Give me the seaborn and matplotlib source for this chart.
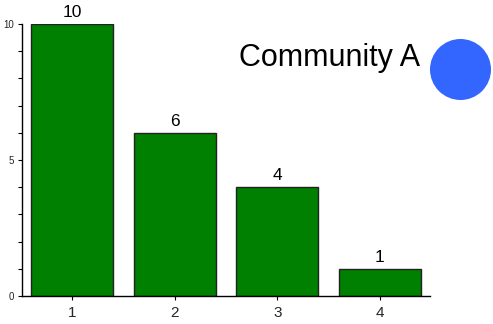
import matplotlib
matplotlib.use("Agg")
import matplotlib.pyplot as plt
from matplotlib.patches import Ellipse
from matplotlib.ticker import MultipleLocator
import seaborn as sns

categories = ["1", "2", "3", "4"]
counts = [10, 6, 4, 1]
title_text = "Community A"

sns.set_style("white")
plt.rcParams["font.family"] = ["Liberation Sans", "DejaVu Sans"]

W, H = 493, 324
fig = plt.figure(figsize=(W / 100, H / 100), dpi=100)
ax = fig.add_axes([22 / W, 1 - 296 / H, (430 - 22) / W, (296 - 24) / H])

sns.barplot(x=categories, y=counts, color="#008000", saturation=1,
            edgecolor="#222222", linewidth=1, width=0.8, ax=ax)

ax.set_xlim(-0.49, 3.49)
ax.set_ylim(0, 10)
ax.set_xlabel("")
ax.set_ylabel("")

for i, v in enumerate(counts):
    ax.annotate(str(v), (i, v), xytext=(0, 3), textcoords="offset points",
                ha="center", va="bottom", fontsize=12.5, color="black")

for s in ("top", "right"):
    ax.spines[s].set_visible(False)
for s in ("left", "bottom"):
    ax.spines[s].set_color("black")
    ax.spines[s].set_linewidth(1)

ax.yaxis.set_major_locator(MultipleLocator(5))
ax.yaxis.set_minor_locator(MultipleLocator(1))
ax.tick_params(axis="y", which="both", left=True, direction="out",
               length=3, width=0.8, color="black", labelsize=7, pad=3)
ax.tick_params(axis="x", bottom=True, direction="out", length=3, width=0.8,
               color="black", labelsize=11, pad=4)

fig.text(420 / W, 1 - 58 / H, title_text, ha="right", va="center",
         fontsize=22, color="black")
fig.add_artist(Ellipse((460.5 / W, 1 - 69.5 / H), 61 / W, 61 / H,
                       transform=fig.transFigure, color="#3366FF", lw=0))

fig.savefig("out.png", dpi=100, facecolor="white")
